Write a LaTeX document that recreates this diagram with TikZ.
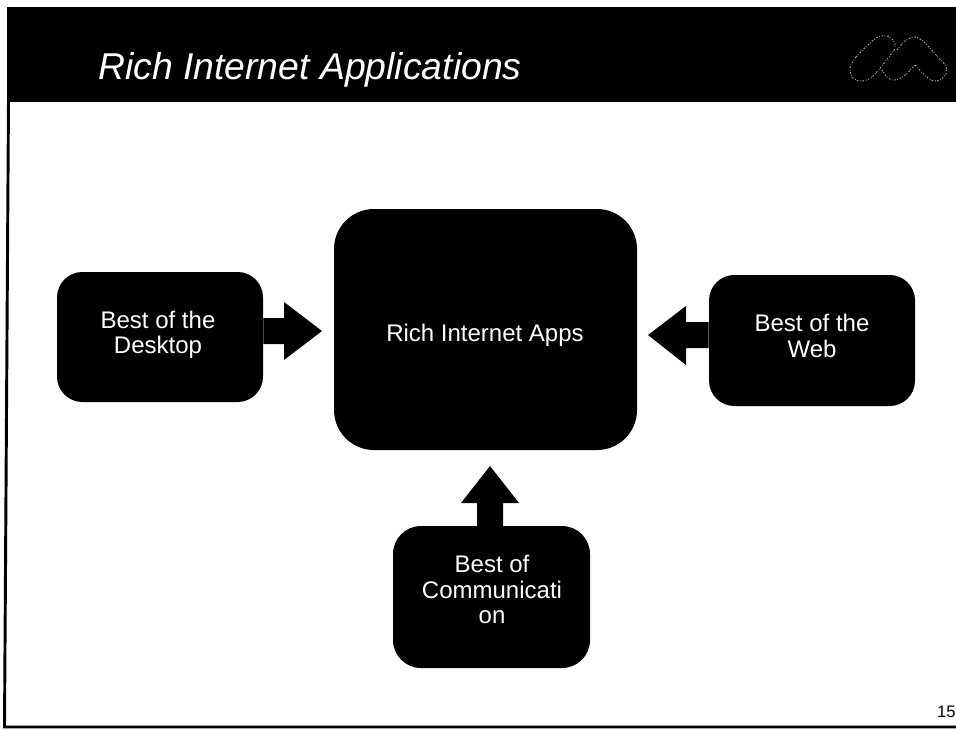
\documentclass[tikz,border=0pt]{standalone}
\usepackage{fontspec}
\setmainfont{Liberation Sans}
\tikzset{
  blackbox/.style={fill=black,rounded corners=#1,inner sep=0pt},
  boxlabel/.style={text=white,align=center,inner sep=0pt,font=\fontsize{18}{18.9}\selectfont},
  blockarrow/.style={fill=black,draw=none},
  framing/.style={line width=2.2pt,draw=black},
  logoline/.style={draw=white!65!black,line width=0.7pt,dash pattern=on 1.2pt off 0.9pt on 0.6pt off 1.5pt}
}
\begin{document}
\begin{tikzpicture}[x=0.75pt,y=-0.75pt]
\useasboundingbox (0,0) rectangle (956,729);
\fill[white] (0,0) rectangle (956,729);
% frame and header
\draw[framing] (8.5,100) -- (4.5,727) -- (956,727);
\fill[black] (7,7) rectangle (956,102);
\node[text=white,inner sep=0pt,anchor=base west,font=\itshape\fontsize{28}{28}\selectfont] (title) at (98,79) {Rich Internet Applications};
% logo
\draw[logoline] plot[smooth cycle,tension=0.6] coordinates {(850,68) (856,57) (868,45) (878,37) (887,36) (893,40) (895,48) (888,58) (880,68) (872,77) (862,81) (853,78)};
\draw[logoline] plot[smooth,tension=0.6] coordinates {(897,50) (905,41) (915,37) (924,42) (936,55) (945,65) (946,74) (937,81) (928,78) (915,65)};
\draw[logoline] plot[smooth,tension=0.6] coordinates {(882,70) (888,78) (895,80) (904,76) (915,65)};
% boxes
\node[blackbox=30pt,minimum width=303*0.75pt,minimum height=241*0.75pt] (apps) at (485.5,329.5) {};
\node[blackbox=19pt,minimum width=206*0.75pt,minimum height=130*0.75pt] (desktop) at (160,337) {};
\node[blackbox=19pt,minimum width=206*0.75pt,minimum height=131*0.75pt] (web) at (812,340.5) {};
\node[blackbox=21pt,minimum width=197*0.75pt,minimum height=142*0.75pt] (comm) at (491.5,597) {};
% labels
\node[boxlabel] (appslabel) at (485,335) {Rich Internet Apps};
\node[boxlabel] (desktoplabel) at (158,334.5) {Best of the\\Desktop};
\node[boxlabel] (weblabel) at (812,336) {Best of the\\Web};
\node[boxlabel] (commlabel) at (492,589.5) {Best of\\Communicati\\on};
% arrows
\fill[blockarrow] (desktop.east |- 0,318) -- (284,318) -- (284,302) -- (322,331) -- (284,360) -- (284,344) -- (desktop.east |- 0,344) -- cycle;
\fill[blockarrow] (web.west |- 0,322) -- (686,322) -- (686,306) -- (648,335) -- (686,365) -- (686,348) -- (web.west |- 0,348) -- cycle;
\fill[blockarrow] (477,526) -- (477,503) -- (461,503) -- (490,466) -- (519,503) -- (503,503) -- (503,526) -- cycle;
% page number
\node[anchor=base east,inner sep=0pt,font=\fontsize{12.5}{13}\selectfont] (page) at (956,717) {15};
\end{tikzpicture}
\end{document}
